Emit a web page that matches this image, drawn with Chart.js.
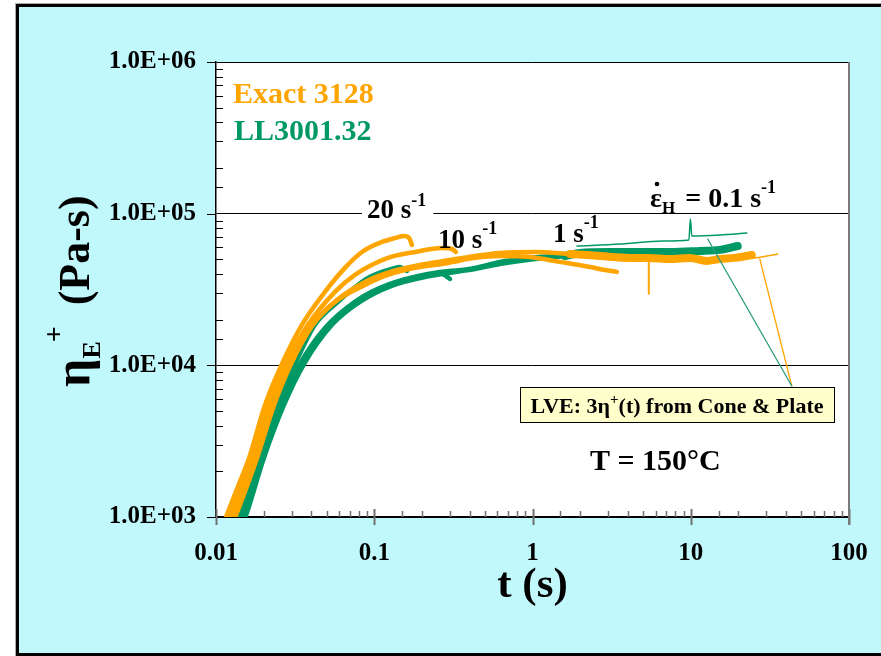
<!DOCTYPE html>
<html>
<head>
<meta charset="utf-8">
<script src="https://cdn.jsdelivr.net/npm/chart.js@4.4.1/dist/chart.umd.min.js"></script>
<style>
  html, body { margin: 0; padding: 0; background: #fff; width: 881px; height: 656px; overflow: hidden; }
  #frame { position: absolute; left: 16px; top: 4px; width: 900px; height: 646px; background: #c0f8fc; border: 3px solid #000; box-shadow: 0 0 0 1px #aaa; }
  #wrap { position: absolute; left: 0; top: 0; width: 881px; height: 656px; }
</style>
</head>
<body>
<div id="frame"></div>
<div id="wrap"><canvas id="etaChart" width="881" height="656"></canvas></div>
<script>
// tick labels
const xTickLabels = ['0.01', '0.1', '1', '10', '100'];
const yTickLabels = ['1.0E+03', '1.0E+04', '1.0E+05', '1.0E+06'];

// Exact 3128 (orange), t in s, eta in Pa-s
const exact20T = [0.0108, 0.0117, 0.0138, 0.0162, 0.0204, 0.0261, 0.0349, 0.0488, 0.0653, 0.0836, 0.112, 0.137, 0.154, 0.166, 0.173];
const exact20Eta = [822, 1030, 1600, 2460, 5480, 10200, 18500, 30500, 43900, 55900, 65100, 69200, 71300, 69200, 62200];
const exact10T = [0.0114, 0.0124, 0.0171, 0.0216, 0.0277, 0.0381, 0.0565, 0.0755, 0.122, 0.181, 0.268, 0.310, 0.328];
const exact10Eta = [822, 1030, 2460, 5480, 10200, 18500, 30500, 39500, 51100, 55900, 59400, 58500, 55900];
const exact1T = [0.0121, 0.0132, 0.0179, 0.0229, 0.0294, 0.0404, 0.0565, 0.0873, 0.122, 0.181, 0.292, 0.433, 0.622, 0.963, 1.49, 2.31, 2.87, 3.41];
const exact1Eta = [822, 1030, 2460, 5480, 10200, 18500, 26200, 33900, 39500, 43900, 47300, 51100, 52600, 51800, 48100, 44500, 42500, 41300];
const exact01T = [0.0123, 0.0134, 0.0182, 0.0233, 0.0298, 0.0410, 0.0581, 0.0873, 0.126, 0.194, 0.301, 0.433, 0.622, 1.04, 1.72, 2.67, 4.12, 5.36, 7.38, 9.87, 12.6, 15.3, 19.0, 24.3];
const exact01Eta = [822, 1030, 2460, 5480, 10200, 18500, 27000, 35500, 41300, 45900, 49500, 52600, 55100, 55900, 54300, 52600, 51100, 51100, 50300, 51100, 48800, 50300, 51100, 53400];
const exactSpikeT = [5.43, 5.43];
const exactSpikeEta = [51100, 29600];
const lveExactT = [20.0, 24.7, 35.5];
const lveExactEta = [51100, 51100, 54300];

// LL3001.32 (green)
const ll20T = [0.0130, 0.0142, 0.0182, 0.0243, 0.0316, 0.0422, 0.0590, 0.0913, 0.135, 0.145, 0.161];
const ll20Eta = [822, 1030, 2460, 5480, 10200, 18500, 26200, 37700, 43900, 44500, 41900];
const ll10T = [0.0136, 0.0148, 0.0193, 0.0257, 0.0339, 0.0488, 0.0755, 0.122, 0.194, 0.260, 0.284, 0.301];
const ll10Eta = [822, 1030, 2460, 5480, 10200, 17600, 26200, 33900, 38300, 40600, 38800, 37100];
const ll1T = [0.0140, 0.0153, 0.0198, 0.0265, 0.0355, 0.0525, 0.0789, 0.126, 0.218, 0.433, 0.622, 0.963, 1.56];
const ll1Eta = [822, 1030, 2460, 5480, 10200, 18500, 27000, 34400, 40000, 43900, 48100, 51100, 53400];
const ll01T = [0.0142, 0.0155, 0.0201, 0.0269, 0.0360, 0.0541, 0.0812, 0.129, 0.225, 0.433, 0.622, 1.04, 1.60, 1.99, 3.08, 4.77, 7.38, 11.4, 15.3, 19.8];
const ll01Eta = [822, 1030, 2460, 5480, 10200, 18500, 26200, 33400, 38800, 43200, 46600, 50300, 52600, 55100, 55900, 55900, 55900, 56800, 57700, 61200];
const lveLLT = [1.91, 3.57, 6.67, 9.73, 9.95, 10.16, 15.3, 22.6];
const lveLLEta = [61200, 63100, 66100, 67100, 92300, 71300, 72400, 74600];

// leader lines from the LVE box
const leaderLLT = [12.8, 43.5];
const leaderLLEta = [68100, 7310];
const leaderExactT = [27.3, 43.5];
const leaderExactEta = [50300, 7310];

const orange = '#ffa500';
const green = '#009966';
const serif = '"Liberation Serif", "Times New Roman", serif';

function isDecade(v) {
  const e = Math.log10(v);
  return Math.abs(e - Math.round(e)) < 1e-6;
}

function curve(t, eta, color, width, order, extra) {
  return Object.assign({
    data: t.map((v, i) => ({ x: v, y: eta[i] })),
    showLine: true,
    borderColor: color,
    backgroundColor: color,
    borderWidth: width,
    pointRadius: 0,
    pointHoverRadius: 0,
    cubicInterpolationMode: 'monotone',
    borderCapStyle: 'round',
    borderJoinStyle: 'round',
    fill: false,
    clip: 0,
    order: order
  }, extra || {});
}

// thicker noisy band for the long (0.1 1/s) runs
const tail = { segment: { borderWidth: c => (c.p0.parsed.x >= 1.5 ? 8 : 4.5) } };

// parts: [text, size, dy, dx, color]
function textRun(ctx, x, y, parts) {
  let cx = x;
  parts.forEach(p => {
    ctx.font = 'bold ' + p[1] + 'px ' + serif;
    cx += p[3] || 0;
    ctx.fillStyle = p[4] || '#000';
    ctx.fillText(p[0], cx, y + (p[2] || 0));
    cx += ctx.measureText(p[0]).width;
  });
  return cx - x;
}

function runWidth(ctx, parts) {
  let w = 0;
  parts.forEach(p => {
    ctx.font = 'bold ' + p[1] + 'px ' + serif;
    w += (p[3] || 0) + ctx.measureText(p[0]).width;
  });
  return w;
}

const decor = {
  id: 'decor',
  beforeDraw(chart) {
    const { ctx, chartArea: a } = chart;
    ctx.save();
    ctx.fillStyle = '#fff';
    ctx.fillRect(a.left, a.top, a.right - a.left, a.bottom - a.top);
    ctx.restore();
  },
  afterDraw(chart) {
    const { ctx, chartArea: a, scales: { x, y } } = chart;
    ctx.save();

    // x ticks: minor inside, major crossing
    x.ticks.forEach(tk => {
      const px = Math.round(x.getPixelForValue(tk.value)) + 0.5;
      const major = isDecade(tk.value);
      ctx.strokeStyle = '#707070';
      ctx.lineWidth = major ? 2 : 1.5;
      ctx.beginPath();
      ctx.moveTo(px, a.bottom - (major ? 8 : 6));
      ctx.lineTo(px, a.bottom + (major ? 8 : 0));
      ctx.stroke();
    });
    // y ticks
    y.ticks.forEach(tk => {
      const py = Math.round(y.getPixelForValue(tk.value)) + 0.5;
      ctx.strokeStyle = '#000';
      ctx.lineWidth = 1;
      ctx.beginPath();
      if (isDecade(tk.value)) {
        ctx.moveTo(a.left - 9, py);
        ctx.lineTo(a.left, py);
      } else {
        ctx.moveTo(a.left, py);
        ctx.lineTo(a.left + 7, py);
      }
      ctx.stroke();
    });
    // right border
    ctx.strokeStyle = '#7a7a7a';
    ctx.lineWidth = 2;
    ctx.beginPath();
    ctx.moveTo(a.right, a.top);
    ctx.lineTo(a.right, a.bottom + 8);
    ctx.stroke();

    ctx.textAlign = 'left';
    ctx.textBaseline = 'alphabetic';

    // series names
    textRun(ctx, 233, 103, [['Exact 3128', 30, 0, 0, orange]]);
    textRun(ctx, 234, 140, [['LL3001.32', 30, 0, 0, green]]);

    // rate labels
    const r20 = [['20 s', 27], ['-1', 18, -12]];
    ctx.fillStyle = '#fff';
    ctx.fillRect(362, 199, runWidth(ctx, r20) + 12, 27);
    textRun(ctx, 367, 218, r20);
    textRun(ctx, 438, 248, [['10 s', 27], ['-1', 18, -14]]);
    textRun(ctx, 553, 242, [['1 s', 27], ['-1', 18, -14]]);
    textRun(ctx, 650, 207, [['ε', 28], ['H', 17, 6], [' = 0.1 s', 28, 0, 3], ['-1', 18, -14]]);
    ctx.fillStyle = '#000';
    ctx.beginPath();
    ctx.arc(657, 184, 2.3, 0, Math.PI * 2);
    ctx.fill();

    // LVE box
    ctx.fillStyle = '#ffffcc';
    ctx.fillRect(520, 387, 314, 35);
    ctx.strokeStyle = '#000';
    ctx.lineWidth = 1;
    ctx.strokeRect(520.5, 387.5, 314, 35);
    const lve = [['LVE: 3η', 22], ['+', 15, -9], ['(t) from Cone & Plate', 22]];
    textRun(ctx, 677 - runWidth(ctx, lve) / 2, 413, lve);

    textRun(ctx, 590, 470, [['T = 150°C', 30]]);

    // y axis title
    ctx.save();
    ctx.translate(89, 387);
    ctx.rotate(-Math.PI / 2);
    textRun(ctx, 0, 0, [['η', 50], ['E', 26, 11], ['+', 28, -26, -1], [' (Pa-s)', 44, 0, 10]]);
    ctx.restore();

    ctx.restore();
  }
};

new Chart(document.getElementById('etaChart'), {
  type: 'scatter',
  data: {
    datasets: [
      curve(ll20T, ll20Eta, green, 4.5, 2),
      curve(ll10T, ll10Eta, green, 4.5, 2),
      curve(ll1T, ll1Eta, green, 4.5, 2),
      curve(ll01T, ll01Eta, green, 4.5, 2, tail),
      curve(exact20T, exact20Eta, orange, 4.5, 1),
      curve(exact10T, exact10Eta, orange, 4.5, 1),
      curve(exact1T, exact1Eta, orange, 4.5, 1),
      curve(exact01T, exact01Eta, orange, 4.5, 1, tail),
      curve(exactSpikeT, exactSpikeEta, orange, 2, 1),
      curve(lveLLT, lveLLEta, green, 1.5, 0),
      curve(lveExactT, lveExactEta, orange, 1.5, 0),
      curve(leaderLLT, leaderLLEta, '#2a9d7c', 1.3, 0),
      curve(leaderExactT, leaderExactEta, orange, 1.3, 0)
    ]
  },
  options: {
    responsive: false,
    animation: false,
    events: [],
    layout: { padding: { left: 0, top: 62, right: 32, bottom: 0 } },
    plugins: { legend: { display: false }, tooltip: { enabled: false } },
    scales: {
      x: {
        type: 'logarithmic',
        min: 0.01,
        max: 100,
        afterFit: s => { s.height = 139; s.paddingLeft = 0; s.paddingRight = 0; },
        grid: { display: false, drawTicks: false },
        border: { display: true, color: '#000', width: 1.5 },
        ticks: {
          autoSkip: false,
          maxRotation: 0,
          padding: 22,
          color: '#000',
          font: { family: serif, size: 25, weight: 'bold' },
          callback: v => (isDecade(v) ? xTickLabels[Math.round(Math.log10(v)) + 2] : '')
        },
        title: {
          display: true,
          text: 't (s)',
          color: '#000',
          font: { family: serif, size: 43, weight: 'bold' },
          padding: { top: 0, bottom: 44 }
        }
      },
      y: {
        type: 'logarithmic',
        min: 1000,
        max: 1000000,
        afterFit: s => { s.width = 216; s.paddingTop = 0; s.paddingBottom = 0; },
        grid: {
          drawTicks: false,
          lineWidth: 1,
          color: c => (c.tick && isDecade(c.tick.value) ? '#000' : 'rgba(0,0,0,0)')
        },
        border: { display: true, color: '#000', width: 1.5 },
        ticks: {
          autoSkip: false,
          padding: 20,
          color: '#000',
          font: { family: serif, size: 25, weight: 'bold' },
          callback: v => (isDecade(v) ? yTickLabels[Math.round(Math.log10(v)) - 3] : '')
        }
      }
    }
  },
  plugins: [decor]
});
</script>
</body>
</html>
